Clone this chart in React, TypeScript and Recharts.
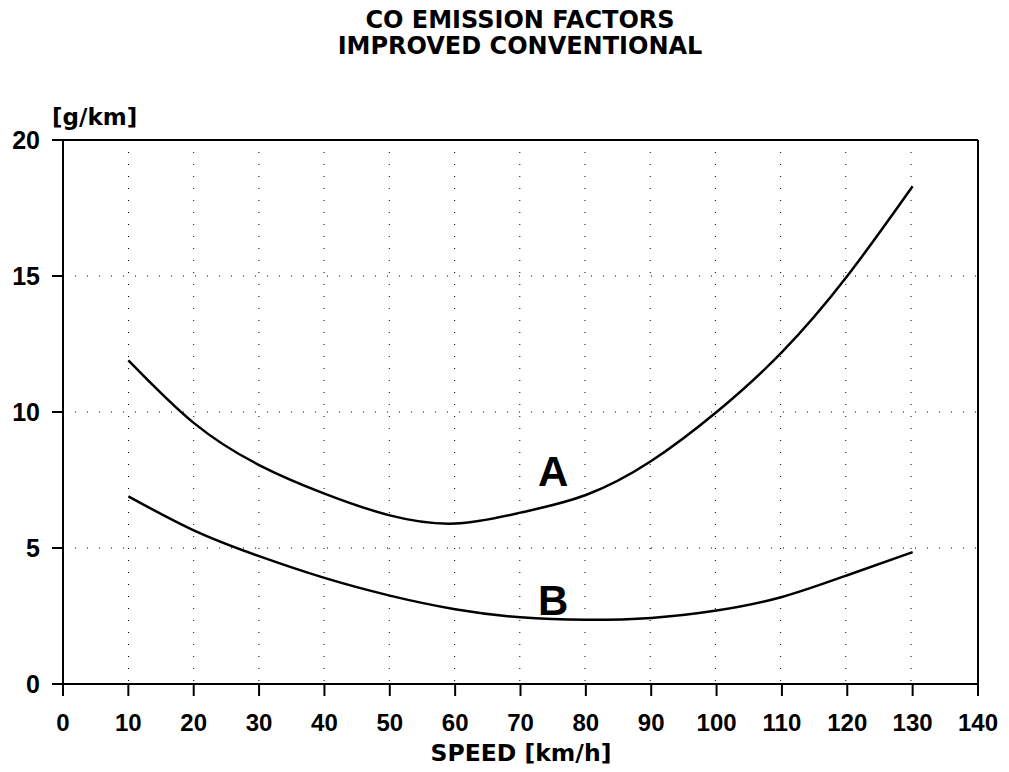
import { CartesianGrid, Line, LineChart, ReferenceDot, ReferenceLine, XAxis, YAxis } from "recharts";

const speeds = [10, 20, 30, 40, 50, 60, 70, 80, 90, 100, 110, 120, 130];
const curveA = [11.9, 9.6, 8.05, 7.0, 6.2, 5.9, 6.3, 6.95, 8.2, 10.0, 12.2, 15.0, 18.3];
const curveB = [6.9, 5.65, 4.7, 3.9, 3.25, 2.75, 2.45, 2.36, 2.43, 2.7, 3.2, 4.0, 4.85];
const xTicks = [0, 10, 20, 30, 40, 50, 60, 70, 80, 90, 100, 110, 120, 130, 140];
const yTicks = [0, 5, 10, 15, 20];
const titleLines = ["CO EMISSION FACTORS", "IMPROVED CONVENTIONAL"];

const data = speeds.map((s, i) => ({ speed: s, a: curveA[i], b: curveB[i] }));

const font = "'Liberation Sans', Arial, sans-serif";
const wide = "'DejaVu Sans', sans-serif";
const tickStyle = { fill: "#000", fontSize: 24, fontWeight: 700, fontFamily: font };

export default function App() {
  return (
    <div style={{ position: "absolute", left: 0, top: 0, width: 1009, height: 772, background: "#fff", fontFamily: wide }}>
      <div style={{ position: "absolute", left: 0, top: 7, width: 1040, textAlign: "center", fontSize: 24, fontWeight: 700, lineHeight: "26px" }}>
        {titleLines.map((t) => <div key={t}>{t}</div>)}
      </div>
      <div style={{ position: "absolute", left: 52, top: 104, fontSize: 23, fontWeight: 700 }}>[g/km]</div>
      <div style={{ position: "absolute", left: 0, top: 739, width: 1042, textAlign: "center", fontSize: 23.5, fontWeight: 700 }}>SPEED [km/h]</div>
      <LineChart width={1009} height={772} data={data} margin={{ top: 140, right: 31, left: 0, bottom: 0 }}>
        <CartesianGrid stroke="#000" strokeDasharray="1 11" strokeWidth={1} verticalPoints={[128.5, 193.7, 258.9, 324.1, 389.3, 454.6, 519.8, 585, 650.2, 715.4, 780.6, 845.8, 911]} />
        <XAxis
          dataKey="speed"
          type="number"
          domain={[0, 140]}
          ticks={xTicks}
          interval={0}
          height={88}
          tick={tickStyle}
          tickSize={12}
          tickMargin={18}
          stroke="#000"
          strokeWidth={2}
        />
        <YAxis
          type="number"
          domain={[0, 20]}
          ticks={yTicks}
          interval={0}
          width={63}
          tick={{ ...tickStyle, fontSize: 25 }}
          tickSize={11}
          tickMargin={12}
          stroke="#000"
          strokeWidth={2}
        />
        <ReferenceLine y={20} stroke="#000" strokeWidth={2} />
        <ReferenceLine x={140} stroke="#000" strokeWidth={2} />
        <Line type="natural" dataKey="a" stroke="#000" strokeWidth={2.5} dot={false} isAnimationActive={false} />
        <Line type="natural" dataKey="b" stroke="#000" strokeWidth={2.5} dot={false} isAnimationActive={false} />
        <ReferenceDot x={75} y={7.84} r={0} label={{ value: "A", position: "center", fill: "#000", fontSize: 42, fontWeight: 700, fontFamily: font }} />
        <ReferenceDot x={75} y={3.1} r={0} label={{ value: "B", position: "center", fill: "#000", fontSize: 42, fontWeight: 700, fontFamily: font }} />
      </LineChart>
    </div>
  );
}
